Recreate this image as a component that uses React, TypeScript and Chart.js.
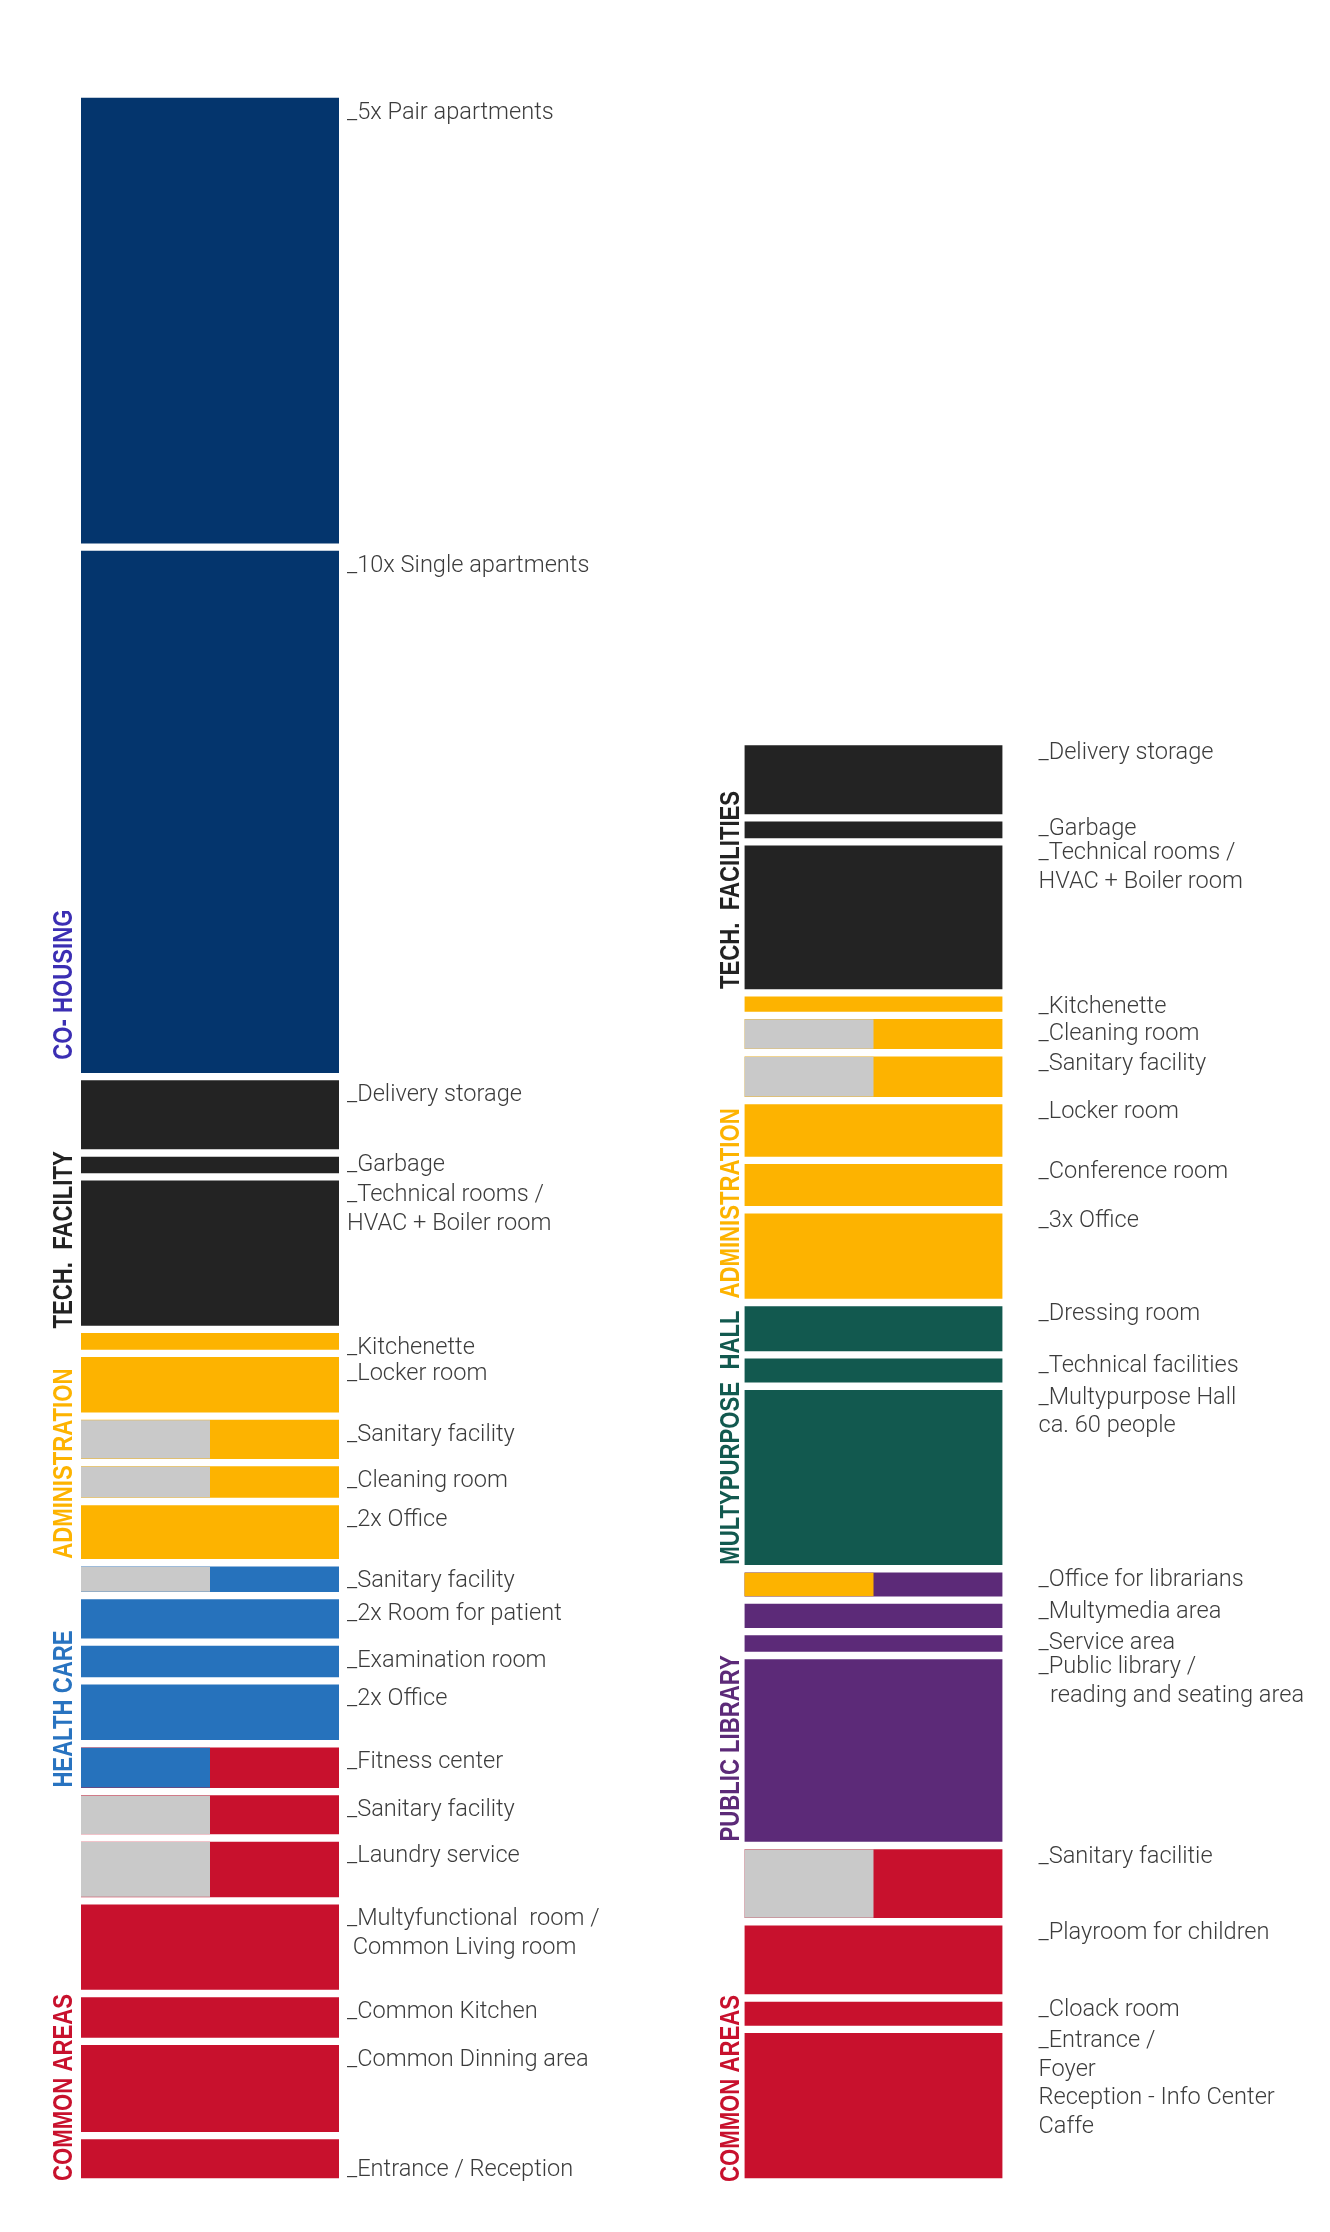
import React, { useEffect, useRef } from "react";
import { Chart, registerables } from "chart.js";

Chart.register(...registerables);

// ---------- DATA (areas in m²) ----------
const columns = ["left", "right"];

const leftRooms = [
  "_5x Pair apartments",
  "_10x Single apartments",
  "_Delivery storage",
  "_Garbage",
  "_Technical rooms /\nHVAC + Boiler room",
  "_Kitchenette",
  "_Locker room",
  "_Sanitary facility",
  "_Cleaning room",
  "_2x Office",
  "_Sanitary facility",
  "_2x Room for patient",
  "_Examination room",
  "_2x Office",
  "_Fitness center",
  "_Sanitary facility",
  "_Laundry service",
  "_Multyfunctional  room /\n Common Living room",
  "_Common Kitchen",
  "_Common Dinning area",
  "_Entrance / Reception",
];
const leftAreas = [303, 354, 51, 16, 102, 16, 42, 31, 26, 41, 22, 31, 26, 42, 32, 31, 42, 62, 32, 63, 31];
const leftFill = [
  "navy", "navy", "tech", "tech", "tech", "admin", "admin", "admin", "admin", "admin",
  "health", "health", "health", "health", "common", "common", "common", "common", "common", "common", "common",
];
const leftSplit = [
  null, null, null, null, null, null, null, "grey", "grey", null,
  "grey", null, null, null, "health", "grey", "grey", null, null, null, null,
];
const leftGroups = ["CO- HOUSING", "TECH.  FACILITY", "ADMINISTRATION", "HEALTH CARE", "COMMON AREAS"];
const leftGroupKeys = ["navy", "tech", "admin", "health", "common"];
const leftGroupEnds = [1, 4, 9, 14, 20];

const rightRooms = [
  "_Delivery storage",
  "_Garbage",
  "_Technical rooms /\nHVAC + Boiler room",
  "_Kitchenette",
  "_Cleaning room",
  "_Sanitary facility",
  "_Locker room",
  "_Conference room",
  "_3x Office",
  "_Dressing room",
  "_Technical facilities",
  "_Multypurpose Hall\nca. 60 people",
  "_Office for librarians",
  "_Multymedia area",
  "_Service area",
  "_Public library /\n  reading and seating area",
  "_Sanitary facilitie",
  "_Playroom for children",
  "_Cloack room",
  "_Entrance /\nFoyer\nReception - Info Center\nCaffe",
];
const rightAreas = [51, 16, 101, 15, 25, 32, 40, 33, 62, 35, 21, 122, 21, 21, 16, 127, 51, 51, 21, 102];
const rightFill = [
  "tech", "tech", "tech", "admin", "admin", "admin", "admin", "admin", "admin",
  "hall", "hall", "hall", "library", "library", "library", "library",
  "common", "common", "common", "common",
];
const rightSplit = [
  null, null, null, null, "grey", "grey", null, null, null, null, null, null,
  "admin", null, null, null, "grey", null, null, null,
];
const rightGroups = ["TECH.  FACILITIES", "ADMINISTRATION", "MULTYPURPOSE  HALL", "PUBLIC LIBRARY", "COMMON AREAS"];
const rightGroupKeys = ["tech", "admin", "hall", "library", "common"];
const rightGroupEnds = [2, 8, 11, 15, 19];

// ---------- STYLE ----------
const palette: Record<string, string> = {
  navy: "#04356D",
  tech: "#232323",
  admin: "#FDB300",
  health: "#2672BC",
  common: "#C8112D",
  hall: "#12594F",
  library: "#5C2A78",
  grey: "#C9C9C9",
};
const groupText: Record<string, string> = {
  navy: "#3B2EB3",
  tech: "#222222",
  admin: "#FDB300",
  health: "#2873C0",
  common: "#C8112D",
  hall: "#12594F",
  library: "#5C2A78",
};

const GAP = 4; // white border on top/bottom of each room

type Pt = { x: string; y: [number, number]; col: string; idx: number; label: string; fill: string; split: string | null };

function buildColumn(col: string, rooms: string[], areas: number[], fill: string[], split: (string | null)[]): Pt[] {
  let top = areas.reduce((a, b) => a + b, 0);
  return rooms.map((label, i) => {
    const end = top;
    const start = top - areas[i];
    top = start;
    return { x: col, y: [start, end], col, idx: i, label, fill: fill[i], split: split[i] };
  });
}

const points: Pt[] = [
  ...buildColumn(columns[0], leftRooms, leftAreas, leftFill, leftSplit),
  ...buildColumn(columns[1], rightRooms, rightAreas, rightFill, rightSplit),
];
const yMax = Math.max(
  leftAreas.reduce((a, b) => a + b, 0),
  rightAreas.reduce((a, b) => a + b, 0)
);

const colStyle: Record<string, any> = {
  left: { gap: 8, baseline: 20.5, nudge: { 3: -6.5, 6: 2.5, 20: 15.5 } as Record<number, number>, groupGap: 9.5, groupNudge: { 0: -13, 1: 3, 4: 3 } as Record<number, number> },
  right: { gap: 36, baseline: 13.5, nudge: { 3: 2.5, 4: 7.5 } as Record<number, number>, groupGap: 6, groupNudge: { 4: 4 } as Record<number, number> },
};

const decorPlugin = {
  id: "roomDecor",
  afterDatasetsDraw(chart: any) {
    const ctx: CanvasRenderingContext2D = chart.ctx;
    const meta = chart.getDatasetMeta(0);
    const data = chart.data.datasets[0].data as Pt[];
    const boxes: Record<string, any> = {};
    ctx.save();
    meta.data.forEach((el: any, i: number) => {
      const p = data[i];
      const { x, y, base, width } = el.getProps(["x", "y", "base", "width"], true);
      const top = Math.min(y, base) + GAP;
      const bottom = Math.max(y, base) - GAP;
      const left = x - width / 2;
      const right = x + width / 2;
      boxes[p.col + ":" + p.idx] = { top, bottom, left, right };
      if (p.split) {
        ctx.fillStyle = palette[p.split];
        ctx.fillRect(left, top, width / 2, bottom - top);
      }
      const cs = colStyle[p.col];
      ctx.font = "300 23.6px Roboto";
      ctx.fillStyle = "#3c3c3c";
      ctx.textAlign = "left";
      ctx.textBaseline = "alphabetic";
      const y0 = top + cs.baseline + (cs.nudge[p.idx] || 0);
      p.label.split("\n").forEach((ln, k) => {
        ctx.fillText(ln, right + cs.gap, y0 + k * 28.6);
      });
    });

    const drawGroups = (col: string, names: string[], keys: string[], ends: number[]) => {
      const cs = colStyle[col];
      names.forEach((name, g) => {
        const b = boxes[col + ":" + ends[g]];
        if (!b) return;
        ctx.save();
        ctx.translate(b.left - cs.groupGap, b.bottom + (cs.groupNudge[g] || 0));
        ctx.rotate(-Math.PI / 2);
        ctx.scale(0.82, 1);
        ctx.font = "bold 27px 'Liberation Sans', Arial, sans-serif";
        ctx.fillStyle = groupText[keys[g]];
        ctx.textAlign = "left";
        ctx.textBaseline = "alphabetic";
        ctx.fillText(name, 0, 0);
        ctx.restore();
      });
    };
    drawGroups(columns[0], leftGroups, leftGroupKeys, leftGroupEnds);
    drawGroups(columns[1], rightGroups, rightGroupKeys, rightGroupEnds);
    ctx.restore();
  },
};

export default function App() {
  const ref = useRef<HTMLCanvasElement>(null);
  useEffect(() => {
    document.body.style.margin = "0";
    document.body.style.background = "#ffffff";
    const chart = new Chart(ref.current as HTMLCanvasElement, {
      type: "bar",
      data: {
        labels: columns,
        datasets: [
          {
            data: points as any,
            backgroundColor: points.map((p) => palette[p.fill]),
            borderColor: "#ffffff",
            borderWidth: { top: GAP, bottom: GAP, left: 0, right: 0 } as any,
            borderSkipped: false,
            barThickness: 258,
            clip: false,
          } as any,
        ],
      },
      options: {
        animation: false,
        responsive: false,
        layout: { padding: { left: 210, right: 456.5, top: 94, bottom: 50 } },
        plugins: { legend: { display: false }, tooltip: { enabled: false }, title: { display: false } },
        scales: {
          x: { type: "category", offset: false, display: false },
          y: { type: "linear", min: 0, max: yMax, display: false },
        },
      },
      plugins: [decorPlugin],
    });
    return () => chart.destroy();
  }, []);
  return (
    <div style={{ width: 1330, height: 2232, background: "#ffffff" }}>
      <canvas ref={ref} width={1330} height={2232} style={{ display: "block", width: 1330, height: 2232 }} />
    </div>
  );
}
